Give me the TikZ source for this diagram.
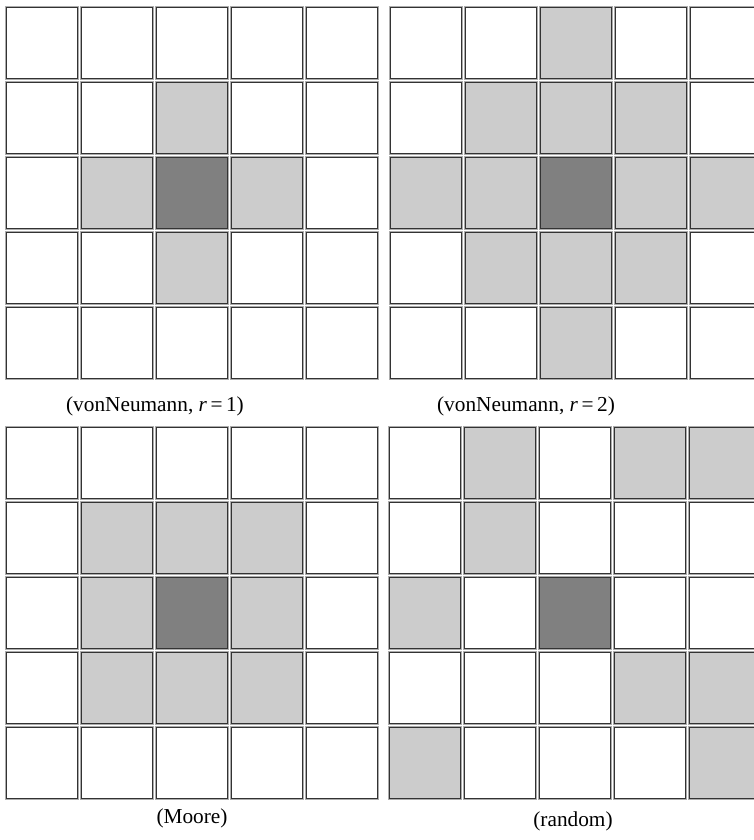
\documentclass[tikz,border=0pt]{standalone}
\usepackage{fontspec}
\setmainfont{Liberation Serif}
\definecolor{lightc}{gray}{0.8}
\definecolor{darkc}{gray}{0.5}
\newcommand\mycell[6]{% x0 y0 col row fill innerwidth
  \draw[fill=#5, draw=gray!65, line width=2.4pt] ({#1+#3*75},{#2+#4*75}) rectangle ++(72,72);
  \draw[draw=black!80, line width=#6] ({#1+#3*75+0.7},{#2+#4*75+0.7}) rectangle ++(70.6,70.6);}
\newcommand\mygrid[5]{% x0 y0 light-list dark innerwidth
  \foreach \c in {0,...,4}{\foreach \r in {0,...,4}{\mycell{#1}{#2}{\c}{\r}{white}{#5}}}
  \foreach \c/\r in {#3}{\mycell{#1}{#2}{\c}{\r}{lightc}{#5}}
  \foreach \c/\r in {#4}{\mycell{#1}{#2}{\c}{\r}{darkc}{#5}}}
\begin{document}
\begin{tikzpicture}[x=1pt,y=-1pt,
  lab/.style={inner sep=0pt, font=\fontsize{21.3}{25}\selectfont}]
\useasboundingbox (0,0) rectangle (754,840);
\clip (0,0) rectangle (754,840);
\mygrid{6}{7}{2/1,1/2,3/2,2/3}{2/2}{0.7pt}
\mygrid{390}{7}{2/0,1/1,2/1,3/1,0/2,1/2,3/2,4/2,1/3,2/3,3/3,2/4}{2/2}{0.7pt}
\mygrid{6}{427}{1/1,2/1,3/1,1/2,3/2,1/3,2/3,3/3}{2/2}{0.7pt}
\mygrid{389}{427}{1/0,3/0,4/0,1/1,0/2,3/3,4/3,0/4,4/4}{2/2}{1.3pt}
\node[lab] (l1) at (155,406) {(vonNeumann, \textit{r}\,=\,1)};
\node[lab] (l2) at (526,406) {(vonNeumann, \textit{r}\,=\,2)};
\node[lab] (l3) at (192,818) {(Moore)};
\node[lab] (l4) at (573,821) {(random)};
\end{tikzpicture}
\end{document}
